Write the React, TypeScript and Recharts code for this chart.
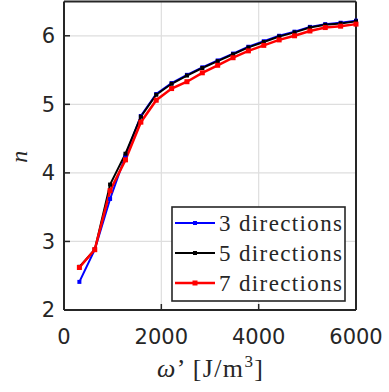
import { LineChart, Line, XAxis, YAxis, CartesianGrid, Legend } from "recharts"

// ω' sample points [J/m^3]
const omega = [316, 632, 947, 1263, 1579, 1895, 2211, 2526, 2842, 3158, 3474, 3789, 4105, 4421, 4737, 5053, 5368, 5684, 6000]

const dir3 = [2.41, 2.88, 3.62, 4.25, 4.83, 5.15, 5.31, 5.43, 5.54, 5.64, 5.74, 5.84, 5.92, 6.0, 6.06, 6.13, 6.17, 6.19, 6.22]
const dir5 = [2.63, 2.88, 3.83, 4.28, 4.82, 5.14, 5.3, 5.42, 5.53, 5.63, 5.73, 5.83, 5.91, 5.99, 6.05, 6.12, 6.16, 6.18, 6.21]
const dir7 = [2.62, 2.88, 3.74, 4.19, 4.74, 5.06, 5.23, 5.33, 5.46, 5.57, 5.68, 5.78, 5.86, 5.94, 6.0, 6.07, 6.12, 6.14, 6.17]

const xTicks = [0, 2000, 4000, 6000]
const yTicks = [2, 3, 4, 5, 6]

const series = [
  { key: "d3", name: "3 directions", color: "#0000ff", width: 2, marker: 4 },
  { key: "d5", name: "5 directions", color: "#000000", width: 2, marker: 4 },
  { key: "d7", name: "7 directions", color: "#ff0000", width: 2.5, marker: 5 },
]

const data = omega.map((w, i) => ({ w, d3: dir3[i], d5: dir5[i], d7: dir7[i] }))

const AXIS = "#262626"
const tickFont = { fill: AXIS, fontSize: 21, fontFamily: "DejaVu Sans" }

const squareDot = (color: string, size: number) => (props: any) => (
  <rect
    key={props.index}
    x={props.cx - size / 2}
    y={props.cy - size / 2}
    width={size}
    height={size}
    fill={color}
  />
)

function LegendBox() {
  return (
    <svg width={176} height={97} style={{ display: "block" }}>
      <rect x={1} y={1} width={173} height={94} fill="#ffffff" stroke={AXIS} strokeWidth={1.6} />
      {series.map((s, i) => {
        const cy = 17 + i * 30
        return (
          <g key={s.key}>
            <line x1={4} x2={44} y1={cy} y2={cy} stroke={s.color} strokeWidth={s.width} />
            <rect x={24 - s.marker / 2} y={cy - s.marker / 2} width={s.marker} height={s.marker} fill={s.color} />
            <text
              x={48}
              y={cy + 7.5}
              fontFamily="Liberation Serif"
              fontSize={23}
              fill={AXIS}
              textLength={123}
              lengthAdjust="spacing"
            >
              {s.name}
            </text>
          </g>
        )
      })}
    </svg>
  )
}

function XTitle(props: any) {
  const vb = props.viewBox
  const cx = vb.x + vb.width / 2
  return (
    <text
      x={cx}
      y={377}
      textAnchor="middle"
      fontFamily="Liberation Serif"
      fontSize={26}
      fill={AXIS}
      textLength={106}
      lengthAdjust="spacing"
    >
      <tspan fontStyle="italic">ω</tspan>
      <tspan>’ [J/m</tspan>
      <tspan fontSize={17} dy={-10}>3</tspan>
      <tspan dy={10}>]</tspan>
    </text>
  )
}

function YTitle(props: any) {
  const vb = props.viewBox
  const cy = vb.y + vb.height / 2 + 1
  return (
    <text
      x={27}
      y={cy}
      textAnchor="middle"
      fontFamily="Liberation Serif"
      fontStyle="italic"
      fontSize={24}
      fill={AXIS}
      transform={`rotate(-90 27 ${cy})`}
    >
      n
    </text>
  )
}

export default function App() {
  return (
    <div style={{ position: "absolute", left: 0, top: 0, width: 389, height: 392, background: "#ffffff" }}>
      <LineChart width={389} height={392} data={data} margin={{ top: 0.5, right: 32, bottom: 22, left: 0 }}>
        <CartesianGrid stroke="#dedede" strokeWidth={1.2} />
        <XAxis
          dataKey="w"
          type="number"
          domain={[0, 6000]}
          ticks={xTicks}
          height={60}
          tickSize={-6}
          tickMargin={25}
          tick={tickFont}
          axisLine={{ stroke: AXIS, strokeWidth: 2 }}
          tickLine={{ stroke: AXIS, strokeWidth: 1.5 }}
          label={<XTitle />}
        />
        <XAxis
          xAxisId="top"
          orientation="top"
          dataKey="w"
          type="number"
          domain={[0, 6000]}
          ticks={xTicks}
          height={1}
          tickSize={-6}
          tick={false}
          axisLine={{ stroke: AXIS, strokeWidth: 2 }}
          tickLine={{ stroke: AXIS, strokeWidth: 1.5 }}
        />
        <YAxis
          type="number"
          domain={[2, 6.5]}
          ticks={yTicks}
          width={64}
          tickSize={-6}
          tickMargin={15}
          tick={tickFont}
          axisLine={{ stroke: AXIS, strokeWidth: 2 }}
          tickLine={{ stroke: AXIS, strokeWidth: 1.5 }}
          label={<YTitle />}
        />
        <YAxis
          yAxisId="right"
          orientation="right"
          type="number"
          domain={[2, 6.5]}
          ticks={yTicks}
          width={1}
          tickSize={-6}
          tick={false}
          axisLine={{ stroke: AXIS, strokeWidth: 2 }}
          tickLine={{ stroke: AXIS, strokeWidth: 1.5 }}
        />
        {series.map((s) => (
          <Line
            key={s.key}
            dataKey={s.key}
            name={s.name}
            stroke={s.color}
            strokeWidth={s.width}
            dot={squareDot(s.color, s.marker)}
            activeDot={false}
            isAnimationActive={false}
          />
        ))}
        <Legend
          layout="horizontal"
          verticalAlign="middle"
          align="center"
          content={() => <LegendBox />}
          wrapperStyle={{ position: "absolute", left: 171, top: 206, width: 176, height: 97 }}
        />
      </LineChart>
    </div>
  )
}
